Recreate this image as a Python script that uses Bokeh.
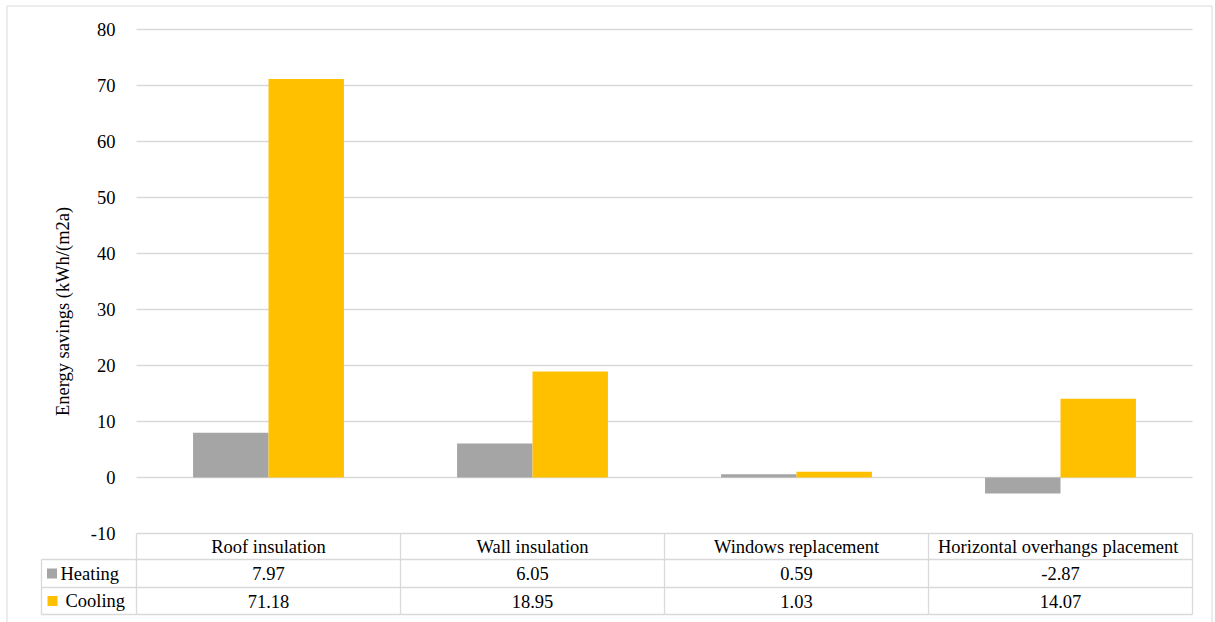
import numpy as np
from bokeh.plotting import figure
from bokeh.models import Range1d, LinearAxis, FixedTicker, PrintfTickFormatter
from bokeh.embed import file_html
from bokeh.resources import INLINE
from bokeh.core.properties import value

# ---- data ----
categories = ["Roof insulation", "Wall insulation", "Windows replacement",
              "Horizontal  overhangs placement"]
heating = [7.97, 6.05, 0.59, -2.87]
cooling = [71.18, 18.95, 1.03, 14.07]
series_names = ["Heating", "Cooling"]
series_colors = ["#a5a5a5", "#ffc000"]
y_ticks = [-10, 0, 10, 20, 30, 40, 50, 60, 70, 80]
y_title = "Energy savings (kWh/(m2a)"

# ---- layout (pixels) ----
W, H = 1215, 622
PLOT_L, PLOT_R = 136, 1192          # plot area, horizontal
PLOT_T, PLOT_B = 29, 533            # plot area, vertical (80 .. -10)
TABLE_LEFT = 41                     # left edge of the row-label column
ROW_LINES = [559, 587, 614]         # horizontal rules of the data table
FONT = "Liberation Serif"
FS = "18.5px"
LINE = "#d9d9d9"
INK = "#000000"

y_min, y_max = y_ticks[0], y_ticks[-1]
n = len(categories)
px_cat = (PLOT_R - PLOT_L) / n
px_unit = (PLOT_B - PLOT_T) / (y_max - y_min)


def xd(px):
    return (px - PLOT_L) / px_cat


def yd(py):
    return y_max - (py - PLOT_T) / px_unit


p = figure(width=W, height=H, output_backend="svg", toolbar_location=None,
           x_range=Range1d(xd(0), xd(W)), y_range=Range1d(yd(H), yd(0)),
           x_axis_location=None, y_axis_location=None,
           min_border=0, min_border_left=0, min_border_right=0,
           min_border_top=0, min_border_bottom=0)
p.outline_line_color = None
p.background_fill_color = "white"
p.border_fill_color = "white"
for g in p.grid:
    g.visible = False

# outer chart border
bx = [xd(6.5), xd(6.5), xd(1211.5), xd(1211.5)]
by = [yd(H + 2), yd(5.5), yd(5.5), yd(H + 2)]
p.line(bx, by, line_color=LINE, line_width=1)

# horizontal gridlines across the plot area
p.segment(x0=[0] * len(y_ticks), x1=[n] * len(y_ticks), y0=y_ticks, y1=y_ticks,
          line_color=LINE, line_width=1.3)

# clustered bars (gap width 150%)
centers = np.arange(n) + 0.5
bw = 1 / 3.5
p.vbar(x=centers - bw / 2, top=heating, bottom=0, width=bw,
       fill_color=series_colors[0], line_color=None)
p.vbar(x=centers + bw / 2, top=cooling, bottom=0, width=bw,
       fill_color=series_colors[1], line_color=None)

# y axis pinned at the left edge of the plot area
yaxis = LinearAxis(fixed_location=0, ticker=FixedTicker(ticks=y_ticks),
                   formatter=PrintfTickFormatter(format="%d"),
                   axis_line_color=None, major_tick_line_color=None,
                   minor_tick_line_color=None, major_tick_out=0, major_tick_in=0,
                   minor_tick_out=0, major_label_standoff=21,
                   major_label_text_font=FONT, major_label_text_font_size=FS,
                   major_label_text_color=INK,
                   axis_label=y_title, axis_label_text_font=FONT,
                   axis_label_text_font_size=FS, axis_label_text_font_style="normal",
                   axis_label_text_color=INK, axis_label_standoff=15)
p.add_layout(yaxis, "left")

# ---- data table under the chart ----
y_top = y_min
y_rows = [yd(r) for r in ROW_LINES]
# vertical rules of the category columns
p.segment(x0=list(range(n + 1)), x1=list(range(n + 1)),
          y0=[y_top] * (n + 1), y1=[y_rows[-1]] * (n + 1),
          line_color=LINE, line_width=1.3)
# row-label column left rule
p.segment(x0=[xd(TABLE_LEFT)], x1=[xd(TABLE_LEFT)], y0=[y_rows[0]], y1=[y_rows[-1]],
          line_color=LINE, line_width=1.3)
# horizontal rules
p.segment(x0=[xd(TABLE_LEFT)] * 3, x1=[n] * 3, y0=y_rows, y1=y_rows,
          line_color=LINE, line_width=1.3)

text_kw = dict(text_font=value(FONT), text_font_size=value(FS), text_color=INK,
               text_baseline="middle")
y_head = (y_top + y_rows[0]) / 2
y_heat = (y_rows[0] + y_rows[1]) / 2
y_cool = (y_rows[1] + y_rows[2]) / 2
p.text(x=list(centers), y=[y_head] * n, text=categories, text_align="center", **text_kw)
p.text(x=list(centers), y=[y_heat] * n, text=[f"{v:.2f}" for v in heating],
       text_align="center", **text_kw)
p.text(x=list(centers), y=[y_cool] * n, text=[f"{v:.2f}" for v in cooling],
       text_align="center", **text_kw)

# series keys in the row-label column
p.scatter(x=[xd(51.5), xd(52)], y=[y_heat, y_cool], marker="square", size=10,
          fill_color=series_colors, line_color=None)
p.text(x=[xd(60), xd(65)], y=[y_heat, y_cool], text=series_names,
       text_align="left", **text_kw)

open("out.html", "w").write(file_html(p, INLINE))
